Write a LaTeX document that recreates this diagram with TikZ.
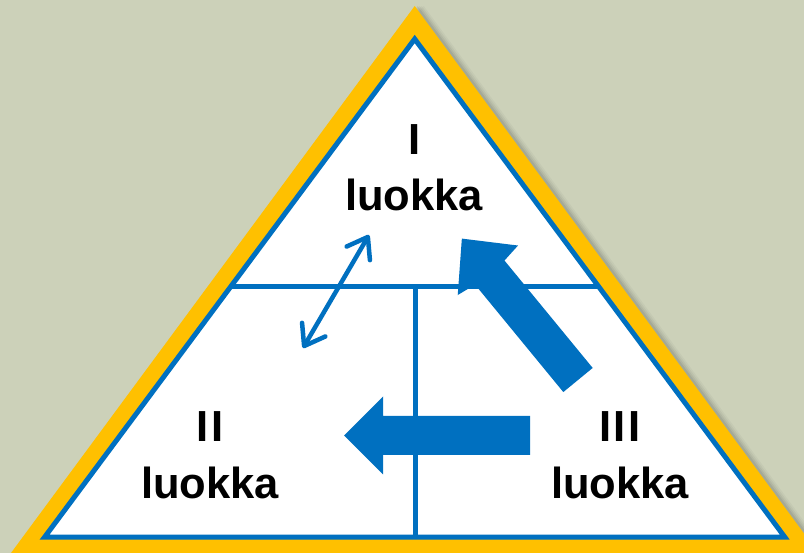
\documentclass[tikz,border=0pt]{standalone}
\usepackage{fontspec}
\setmainfont{Liberation Sans}
\usetikzlibrary{arrows.meta}
\definecolor{bg}{HTML}{CCD1B9}
\definecolor{gold}{HTML}{FFC000}
\definecolor{bblue}{HTML}{0070C0}
\begin{document}
\begin{tikzpicture}[x=1pt,y=-1pt,
  frame/.style={draw=bblue,line width=5pt,line join=miter},
  divider/.style={draw=bblue,line width=5pt},
  blockarrow/.style={fill=bblue},
  label/.style={font=\fontsize{43.5}{52}\selectfont\bfseries,anchor=base,inner sep=0pt}]
\useasboundingbox (0,0) rectangle (804,553);
\fill[bg] (0,0) rectangle (804,553);
\begin{scope}
\clip (0,0) rectangle (804,553);
% soft shadow to the right of the gold triangle
\foreach \s/\o in {9/0.05,7/0.07,5/0.09,3/0.12}{
  \fill[black!70,opacity=\o,xshift=\s pt] (414.7,6) -- (853.1,600) -- (-23.7,600) -- cycle;
}
\fill[gold] (414.7,6) -- (853.1,600) -- (-23.7,600) -- cycle;
\end{scope}
% inner triangle
\coordinate (A) at (414.7,39);
\coordinate (BL) at (44.7,537);
\coordinate (BR) at (784.7,537);
\filldraw[frame,fill=white] (A) -- (BR) -- (BL) -- cycle;
% dividers
\coordinate (HL) at (230.4,287);
\coordinate (HR) at (599,287);
\coordinate (VT) at (415,287);
\coordinate (VB) at (415,537);
\draw[divider] (HL) -- (HR);
\draw[divider] (VT) -- (VB);
% thin double arrow
\coordinate (da1) at (303,348);
\coordinate (da2) at (369,235);
\draw[bblue,line width=4.5pt,line cap=round,
  {Straight Barb[round,length=19pt,width=27pt]}-{Straight Barb[round,length=19pt,width=27pt]}] (da1) -- (da2);
% big diagonal arrow (III -> I)
\begin{scope}[shift={(578,380)},rotate=129.4]
\fill[blockarrow] (0,-19) -- (139,-19) -- (142,-39) -- (183,0) -- (142,39) -- (139,19) -- (0,19) -- cycle;
\end{scope}
% big horizontal arrow (III -> II)
\begin{scope}[shift={(530,435.5)},rotate=180]
\fill[blockarrow] (0,-19.5) -- (147,-19.5) -- (147,-39) -- (186,0) -- (147,39) -- (147,19.5) -- (0,19.5) -- cycle;
\end{scope}
% labels
\node[label] (t1) at (415,155) {I};
\node[label] (t1b) at (414,211) {luokka};
\node[label] (t2) at (210,441.7) {I\kern2.5pt I};
\node[label] (t2b) at (210,498) {luokka};
\node[label] (t3) at (620,441.7) {I\kern2.5pt I\kern2.5pt I};
\node[label] (t3b) at (620,498) {luokka};
\end{tikzpicture}
\end{document}
